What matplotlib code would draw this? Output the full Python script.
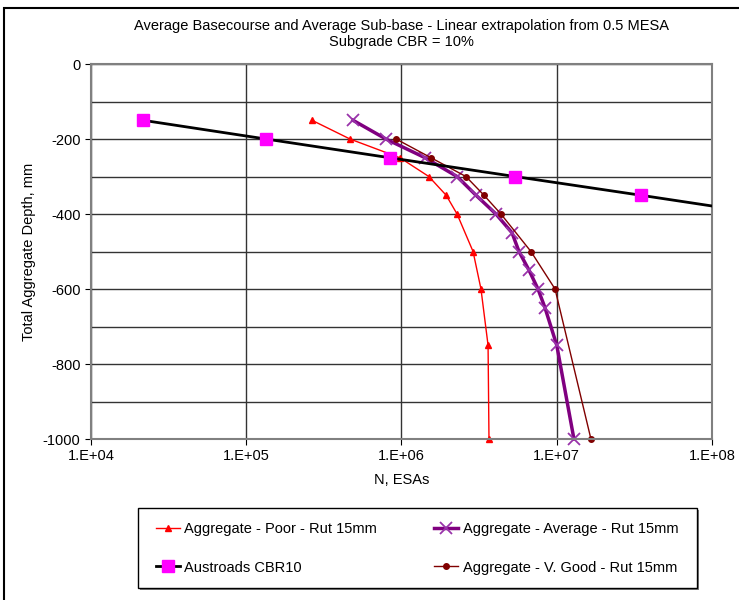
import matplotlib.pyplot as plt
from matplotlib.patches import Rectangle
from matplotlib.ticker import FixedLocator, MultipleLocator

plt.rcParams['font.family'] = ['Liberation Sans', 'DejaVu Sans']
plt.rcParams['axes.unicode_minus'] = False

# depths (mm) and N (ESAs)
poor_depth = [-150, -200, -250, -300, -350, -400, -500, -600, -750, -1000]
poor_n = [2.65e5, 4.66e5, 9.78e5, 1.50e6, 1.94e6, 2.28e6, 2.89e6, 3.25e6, 3.61e6, 3.66e6]

avg_depth = [-150, -200, -250, -300, -350, -400, -450, -500, -550, -600, -650, -750, -1000]
avg_n = [4.87e5, 7.94e5, 1.42e6, 2.28e6, 3.02e6, 4.06e6, 5.15e6, 5.71e6, 6.63e6,
         7.57e6, 8.40e6, 1.00e7, 1.29e7]

aus_depth = [-150, -200, -250, -300, -350, -400]
aus_n = [2.16e4, 1.34e5, 8.43e5, 5.38e6, 3.49e7, 2.2e8]

vgood_depth = [-200, -250, -300, -350, -400, -500, -600, -1000]
vgood_n = [9.23e5, 1.55e6, 2.60e6, 3.40e6, 4.37e6, 6.82e6, 9.75e6, 1.66e7]

xticks = [1e4, 1e5, 1e6, 1e7, 1e8]
xtick_labels = ['1.E+04', '1.E+05', '1.E+06', '1.E+07', '1.E+08']

fs = 10.5

fig = plt.figure(figsize=(7.39, 6.0), dpi=100)
ax = fig.add_axes([0.1231, 0.2683, 0.9635 - 0.1231, 0.8933 - 0.2683])

l1, = ax.plot(poor_n, poor_depth, color='#ff0000', lw=1, marker='^', ms=5,
              label='Aggregate - Poor - Rut 15mm', clip_on=False)
l3, = ax.plot(avg_n, avg_depth, color='#800080', lw=2.5, marker='x', ms=8, mew=1.3,
              mec='#9933aa', label='Aggregate - Average - Rut 15mm', clip_on=False)
l2, = ax.plot(aus_n, aus_depth, color='black', lw=2, marker='s', ms=8,
              mfc='#ff00ff', mec='#ff00ff', label='Austroads CBR10', zorder=3)
l4, = ax.plot(vgood_n, vgood_depth, color='#800000', lw=1, marker='o', ms=4,
              label='Aggregate - V. Good - Rut 15mm', clip_on=False)

ax.set_xscale('log')
ax.set_xlim(1e4, 1e8)
ax.set_ylim(-1000, 0)
ax.xaxis.set_major_locator(FixedLocator(xticks))
ax.xaxis.set_minor_locator(FixedLocator([]))
ax.set_xticklabels(xtick_labels)
ax.yaxis.set_major_locator(MultipleLocator(200))
ax.yaxis.set_minor_locator(MultipleLocator(100))

ax.grid(True, which='major', color='#333333', lw=1)
ax.grid(True, which='minor', axis='y', color='#333333', lw=1)
ax.set_axisbelow(True)
for s in ax.spines.values():
    s.set_color('#808080')
    s.set_linewidth(1.5)
ax.tick_params(which='both', direction='out', length=4, labelsize=fs, color='black')
ax.tick_params(which='minor', length=0)

ax.set_xlabel('N, ESAs', fontsize=fs, labelpad=7)
ax.set_ylabel('Total Aggregate Depth, mm', fontsize=fs, labelpad=5)
ax.set_title('Average Basecourse and Average Sub-base - Linear extrapolation from 0.5 MESA\n'
             'Subgrade CBR = 10%', fontsize=fs, pad=13, linespacing=1.15)

# legend frame with shadow, drawn by hand so the columns sit like the original
box_x, box_y, box_w, box_h = 138 / 739, 12 / 600, 559 / 739, 80 / 600
fig.add_artist(Rectangle((box_x + 2 / 739, box_y - 2 / 600), box_w, box_h,
                         transform=fig.transFigure, fc='#808080', ec='none'))
fig.add_artist(Rectangle((box_x, box_y), box_w, box_h,
                         transform=fig.transFigure, fc='white', ec='black', lw=1))
leg = fig.legend(handles=[l1, l2, l3, l4], ncol=2, loc='center left',
                 bbox_to_anchor=(156 / 739, 1 - 548.5 / 600),
                 fontsize=fs, frameon=False, handlelength=1.65, handletextpad=0.3,
                 borderaxespad=0, borderpad=0, labelspacing=1.65, columnspacing=3.9)

fig.add_artist(Rectangle((4 / 739, -0.01), 1.0, 1 - 8 / 600 + 0.01,
                         transform=fig.transFigure, fill=False, ec='black', lw=1.5))

fig.savefig('out.png', dpi=100)
